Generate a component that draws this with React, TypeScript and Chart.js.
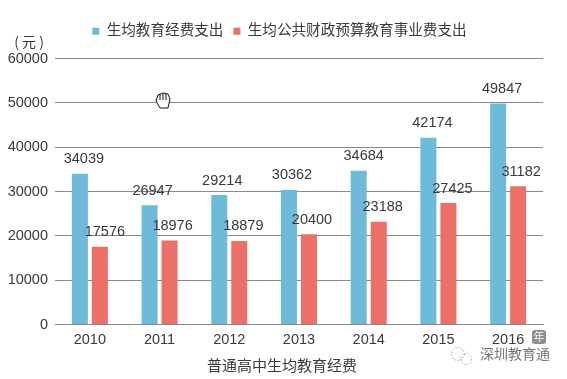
import React, { useEffect, useRef } from "react";
import { Chart, registerables } from "chart.js";

Chart.register(...registerables);

const years = ["2010", "2011", "2012", "2013", "2014", "2015", "2016"];
const totalSpend = [34039, 26947, 29214, 30362, 34684, 42174, 49847];
const publicSpend = [17576, 18976, 18879, 20400, 23188, 27425, 31182];
const seriesNames = ["生均教育经费支出", "生均公共财政预算教育事业费支出"];
const yTicks = [0, 10000, 20000, 30000, 40000, 50000, 60000];
const xTitle = "普通高中生均教育经费";
const yUnit = "( 元 )";
const xUnit = "年";
const watermark = "深圳教育通";

const LATIN = '"Liberation Sans", Arial, sans-serif';
const FONT = `"Liberation Sans", "Noto Sans CJK SC", sans-serif`;
const CJK = `"Noto Sans CJK SC", sans-serif`;
const TEXT = "#3a3a3a";

// label offsets from bar centre (px)
const dxTotal = [4, 3, 3, 3, 5, 4, 4];
const dxPublic = [5, 3, 4, 3, 4, 4, 3];
const labelLift = -14.5;

const annotate = {
  id: "annotate",
  beforeInit(chart: any) {
    const fit = chart.legend.fit;
    chart.legend.fit = function () {
      fit.call(this);
      this.height += 10;
    };
  },
  afterLayout(chart: any) {
    chart.legend.left += 16;
  },
  afterDatasetsDraw(chart: any) {
    const { ctx } = chart;
    ctx.save();
    ctx.textAlign = "center";
    ctx.textBaseline = "middle";
    ctx.fillStyle = TEXT;
    ctx.font = `14.5px ${LATIN}`;
    chart.data.datasets.forEach((ds: any, di: number) => {
      const meta = chart.getDatasetMeta(di);
      const dx = di === 0 ? dxTotal : dxPublic;
      meta.data.forEach((bar: any, i: number) => {
        ctx.fillText(String(ds.data[i]), bar.x + dx[i], bar.y + labelLift);
      });
    });
    ctx.font = `14px ${CJK}`;
    ctx.fillStyle = TEXT;
    ctx.fillText(yUnit, 29, 42);

    ctx.font = `15px ${CJK}`;
    ctx.fillText(xTitle, 282, 365);

    // unit badge
    ctx.fillStyle = "#8f8f8f";
    ctx.beginPath();
    ctx.roundRect(532, 330, 14, 14, 3);
    ctx.fill();
    ctx.fillStyle = "#ffffff";
    ctx.font = `11px ${CJK}`;
    ctx.fillText(xUnit, 539, 337);

    // watermark
    ctx.fillStyle = "#777777";
    ctx.font = `14px ${CJK}`;
    ctx.textAlign = "left";
    ctx.fillText(watermark, 480, 354);
    ctx.strokeStyle = "#999999";
    ctx.lineWidth = 0.8;
    ctx.setLineDash([1.5, 1.5]);
    ctx.beginPath();
    ctx.arc(458, 354, 6.5, 0, Math.PI * 2);
    ctx.stroke();
    ctx.beginPath();
    ctx.arc(466, 359, 5.5, 0, Math.PI * 2);
    ctx.stroke();
    ctx.setLineDash([]);

    // pointer hand
    ctx.strokeStyle = "#111111";
    ctx.fillStyle = "#ffffff";
    ctx.lineWidth = 1;
    ctx.beginPath();
    ctx.moveTo(160, 108);
    ctx.lineTo(156, 101);
    ctx.lineTo(158, 95);
    ctx.lineTo(163, 93);
    ctx.lineTo(168, 94);
    ctx.lineTo(170, 99);
    ctx.lineTo(168, 108);
    ctx.closePath();
    ctx.fill();
    ctx.stroke();
    ctx.beginPath();
    [160, 163, 166].forEach((x) => {
      ctx.moveTo(x, 94);
      ctx.lineTo(x, 100);
    });
    ctx.stroke();
    ctx.restore();
  },
};

export default function App() {
  const ref = useRef<HTMLCanvasElement>(null);
  useEffect(() => {
    const chart = new Chart(ref.current!, {
      type: "bar",
      data: {
        labels: years,
        datasets: [
          { label: seriesNames[0], data: totalSpend, backgroundColor: "#6dbad9" },
          { label: seriesNames[1], data: publicSpend, backgroundColor: "#ec6f68" },
        ],
      },
      plugins: [annotate],
      options: {
        animation: false,
        responsive: false,
        devicePixelRatio: 1,
        layout: { padding: { top: 14, right: 24, bottom: 23, left: 0 } },
        datasets: { bar: { categoryPercentage: 0.574, barPercentage: 0.8 } },
        plugins: {
          tooltip: { enabled: false },
          legend: {
            position: "top",
            labels: {
              boxWidth: 7,
              boxHeight: 7,
              padding: 10,
              color: TEXT,
              font: { size: 14.6, family: FONT },
            },
          },
        },
        scales: {
          x: {
            grid: { display: false, drawTicks: false },
            border: { color: "#888888" },
            ticks: { color: TEXT, font: { size: 14.5, family: LATIN }, padding: 7, maxRotation: 0 },
          },
          y: {
            min: 0,
            max: 60000,
            afterFit(scale: any) {
              scale.width = 55;
            },
            afterBuildTicks(scale: any) {
              scale.ticks = yTicks.map((value) => ({ value }));
            },
            grid: { color: "#8a8a8a", drawTicks: false },
            border: { display: false },
            ticks: {
              color: TEXT,
              font: { size: 14.5, family: LATIN },
              padding: 7,
              callback: (v: any) => String(v),
            },
          },
        },
      },
    } as any);
    return () => chart.destroy();
  }, []);
  return (
    <canvas
      ref={ref}
      width={567}
      height={379}
      style={{ position: "absolute", left: 0, top: 0, width: 567, height: 379 }}
    />
  );
}
